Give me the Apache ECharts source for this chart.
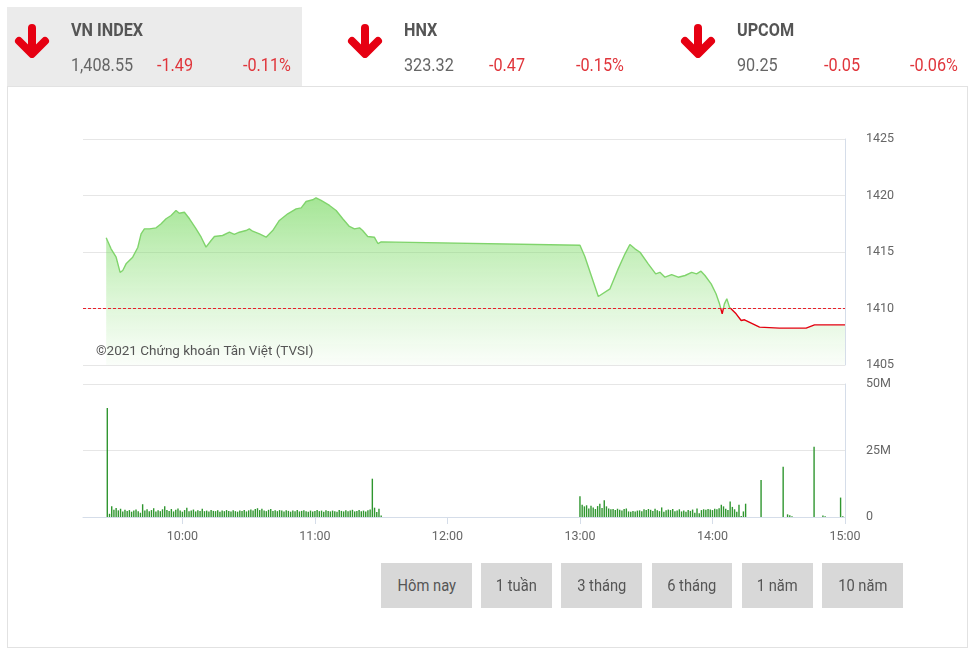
<!DOCTYPE html>
<html><head><meta charset="utf-8">
<script src="https://cdn.jsdelivr.net/npm/echarts@6/dist/echarts.min.js"></script>
<style>
html,body{margin:0;padding:0;background:#fff;width:973px;height:652px;overflow:hidden;font-family:Roboto,"Noto Sans",sans-serif;}
#hdrbox{position:absolute;left:7px;top:7px;width:295px;height:79px;background:#ebebeb;}
#panel{position:absolute;left:7px;top:86px;width:961px;height:562px;border:1px solid #e2e2e2;box-sizing:border-box;}
#chart{position:absolute;left:0;top:0;width:973px;height:652px;}
.t{position:absolute;white-space:nowrap;transform-origin:0 50%;transform:scaleX(0.9);height:24px;line-height:24px;font-size:18px;}
.nm{font-weight:bold;color:#555;}
.val{color:#666;}
.chg{color:#e0353b;}
.arrow{position:absolute;top:24px;width:36px;height:34px;}
.btn{position:absolute;top:563px;height:45px;background:#d8d8d8;color:#555;font-size:16px;line-height:45px;text-align:center;}
.btn span{display:inline-block;transform:scaleX(0.92);}
</style>
</head><body>
<div id="hdrbox"></div>
<div id="panel"></div>
<div id="chart"></div>
<div id="hdr"></div>
<script>
// ---- header data ----
const indexNames = ['VN INDEX', 'HNX', 'UPCOM'];
const indexValues = ['1,408.55', '323.32', '90.25'];
const indexChanges = ['-1.49', '-0.47', '-0.05'];
const indexPercents = ['-0.11%', '-0.15%', '-0.06%'];
const rangeButtons = ['Hôm nay', '1 tuần', '3 tháng', '6 tháng', '1 năm', '10 năm'];

// ---- price line (time, index points) ----
const priceTimes = ['9:25:30','9:27:42','9:30:00','9:31:48','9:33:00','9:34:30','9:37:30','9:39:48','9:41:18','9:42:48',
 '9:45:06','9:48:06','9:50:24','9:52:36','9:54:54','9:57:06','9:58:36','10:00:54','10:03:12','10:06:12',
 '10:08:30','10:10:42','10:13:00','10:14:30','10:18:12','10:21:18','10:23:30','10:25:48','10:28:48','10:30:18',
 '10:31:48','10:34:54','10:37:54','10:40:54','10:43:54','10:47:42','10:51:30','10:53:48','10:56:00','10:59:00',
 '11:00:30','11:02:48','11:06:36','11:09:36','11:12:36','11:15:36','11:17:54','11:20:12','11:21:36','11:23:54',
 '11:26:54','11:28:30','11:30:00','13:00:00','13:02:12','13:08:18','13:13:36','13:17:24','13:20:24','13:22:36',
 '13:24:54','13:27:12','13:30:54','13:34:18','13:36:12','13:38:30','13:41:30','13:44:30','13:47:36','13:50:36',
 '13:52:48','13:54:48','13:56:36','13:59:24','14:01:36','14:03:06','14:04:24','14:05:24','14:06:30','14:07:42',
 '14:10:42','14:13:00','14:14:30','14:21:18','14:30:18','14:42:24','14:46:12','15:00:00'];
const priceValues = [1416.26,1415.28,1414.54,1413.2,1413.36,1413.95,1414.54,1415.4,1416.6,1417.05,
 1417.05,1417.14,1417.5,1417.94,1418.23,1418.67,1418.43,1418.52,1417.94,1417.05,
 1416.31,1415.43,1416.02,1416.37,1416.46,1416.75,1416.55,1416.75,1416.9,1417.05,
 1416.84,1416.6,1416.31,1416.9,1417.79,1418.38,1418.82,1418.9,1419.47,1419.62,
 1419.8,1419.56,1419.12,1418.67,1417.94,1417.26,1417.05,1417.14,1416.9,1416.37,
 1416.31,1415.75,1415.9,1415.6,1414.6,1411.06,1411.74,1413.55,1414.84,1415.66,
 1415.28,1414.98,1413.95,1413.07,1413.2,1412.77,1413.0,1412.77,1412.92,1413.2,
 1413.07,1413.3,1412.92,1412.18,1411.3,1410.47,1409.53,1410.41,1410.86,1410.12,
 1409.53,1408.94,1409.0,1408.35,1408.26,1408.26,1408.55,1408.55];
const referencePrice = 1410.04;

// ---- volume (millions of shares), one bar per minute from the start time ----
const morningVolStart = '9:26';
const morningVolumes = [41.0,1.2,4.0,2.7,3.4,2.5,3.1,2.1,2.7,2.3,
 2.6,2.0,2.4,2.8,2.2,1.6,4.8,2.4,2.9,2.2,
 2.6,3.3,2.1,2.5,2.2,2.9,4.0,2.6,2.3,3.0,
 2.1,2.7,3.2,2.4,2.0,2.6,3.5,2.2,2.4,2.8,
 2.1,2.5,2.3,3.1,2.2,2.4,2.1,2.6,2.3,2.2,
 2.5,2.0,2.4,2.2,2.6,2.3,2.1,2.5,2.2,2.0,
 2.4,2.3,2.6,2.1,2.5,2.8,2.4,3.0,3.3,2.6,
 3.1,2.4,2.2,2.7,3.0,2.3,2.5,2.2,2.6,2.4,
 2.1,2.5,2.3,2.0,2.4,2.2,2.6,2.1,2.3,2.5,
 2.2,2.0,2.4,2.1,2.3,2.6,2.2,2.4,2.0,2.5,
 2.3,2.1,2.4,2.2,2.0,2.6,2.3,2.1,2.5,2.2,
 2.4,2.7,2.1,2.3,2.6,2.2,2.4,2.1,2.5,2.8,
 14.4,3.5,1.9,3.1,0.6];
const afternoonVolStart = '13:00';
const afternoonVolumes = [7.8,4.6,4.0,4.4,3.2,4.2,3.6,3.0,4.1,5.0,
 3.4,6.3,4.0,3.2,2.9,3.0,2.6,3.1,2.7,2.4,
 3.0,3.2,2.1,2.0,2.3,2.1,2.4,2.5,2.2,2.9,
 2.6,3.0,2.7,2.3,3.1,2.5,2.2,3.6,2.0,2.5,
 2.8,2.6,3.0,2.2,2.4,2.9,2.1,2.4,2.0,2.6,
 2.3,2.8,1.6,3.2,1.4,2.6,2.9,2.7,3.0,2.8,
 2.6,3.1,2.9,3.3,4.6,4.0,3.1,2.6,5.8,3.8,
 2.9,2.0,4.6,0.4,2.1,5.0];
const lateVolTimes = ['14:22','14:32','14:34','14:35','14:36','14:46','14:50','14:51','14:58','14:59'];
const lateVolumes = [13.9,18.9,1.0,0.7,0.3,26.4,0.6,0.3,7.3,0.3];

// ---- axis ticks ----
const hourTicks = ['10:00','11:00','12:00','13:00','14:00','15:00'];
const axisStart = '9:15', axisEnd = '15:00';
const priceAxis = {min:1405, max:1425, step:5};
const volumeAxis = {min:0, max:50, step:25};

// ---- helpers ----
const toMin = s => { const p = s.split(':').map(Number); return p[0]*60 + p[1] + (p[2]||0)/60; };
const fmtTime = v => { const h = Math.floor(v/60), m = Math.round(v - h*60); return h + ':' + String(m).padStart(2,'0'); };

// ---- header DOM ----
const hdr = document.getElementById('hdr');
const arrowX = [14, 347, 680], nameX = [71, 404, 737], chgX = [157, 489, 824], pctX = [243, 576, 910];
indexNames.forEach((n, i) => {
  hdr.insertAdjacentHTML('beforeend',
    `<svg class="arrow" style="left:${arrowX[i]}px" viewBox="0 0 36 34"><path d="M18 4 V28 M5 17 L18 30 L31 17" fill="none" stroke="#e60012" stroke-width="8" stroke-linecap="round" stroke-linejoin="round"/></svg>` +
    `<div class="t nm" style="left:${nameX[i]}px;top:18px">${n}</div>` +
    `<div class="t val" style="left:${nameX[i]}px;top:53px">${indexValues[i]}</div>` +
    `<div class="t chg" style="left:${chgX[i]}px;top:53px">${indexChanges[i]}</div>` +
    `<div class="t chg" style="left:${pctX[i]}px;top:53px">${indexPercents[i]}</div>`);
});
const btnLeft = [381, 481, 561, 652, 742, 822], btnW = [91, 71, 81, 80, 71, 81];
rangeButtons.forEach((b, i) => {
  hdr.insertAdjacentHTML('beforeend', `<div class="btn" style="left:${btnLeft[i]}px;width:${btnW[i]}px"><span>${b}</span></div>`);
});

// ---- chart data ----
const priceData = priceTimes.map((t, i) => [toMin(t), priceValues[i]]);
const volData = [];
morningVolumes.forEach((v, i) => volData.push([toMin(morningVolStart) + i, v]));
afternoonVolumes.forEach((v, i) => volData.push([toMin(afternoonVolStart) + i, v]));
lateVolTimes.forEach((t, i) => volData.push([toMin(t), lateVolumes[i]]));
const tickVals = hourTicks.map(toMin);

const upColor = '#80d46c', downColor = '#e3000f';
const chart = echarts.init(document.getElementById('chart'), null, {renderer: 'canvas'});
const gridLine = '#e6e6e6', axisCol = '#d5dde9';
chart.setOption({
  animation: false,
  grid: [
    {left: 83, right: 128, top: 139, height: 226},
    {left: 83, right: 128, top: 384, height: 133}
  ],
  xAxis: [
    {type: 'value', gridIndex: 0, min: toMin(axisStart), max: toMin(axisEnd), show: false},
    {type: 'value', gridIndex: 1, min: toMin(axisStart), max: toMin(axisEnd),
     axisLine: {show: true, lineStyle: {color: axisCol}},
     axisTick: {show: true, length: 7, lineStyle: {color: axisCol}, customValues: tickVals},
     axisLabel: {customValues: tickVals, formatter: fmtTime, color: '#666', fontSize: 12.5, fontFamily: 'Roboto', margin: 13},
     splitLine: {show: false}}
  ],
  yAxis: [
    {type: 'value', gridIndex: 0, position: 'right', min: priceAxis.min, max: priceAxis.max, interval: priceAxis.step,
     axisLine: {show: true, lineStyle: {color: axisCol}}, axisTick: {show: false},
     axisLabel: {color: '#666', fontSize: 12.5, fontFamily: 'Roboto', margin: 21, formatter: v => String(v)},
     splitLine: {show: true, lineStyle: {color: gridLine}}},
    {type: 'value', gridIndex: 1, position: 'right', min: volumeAxis.min, max: volumeAxis.max, interval: volumeAxis.step,
     axisLine: {show: true, lineStyle: {color: axisCol}}, axisTick: {show: false},
     axisLabel: {color: '#666', fontSize: 12.5, fontFamily: 'Roboto', margin: 21, formatter: v => v === 0 ? '0' : v + 'M'},
     splitLine: {show: true, lineStyle: {color: gridLine}}}
  ],
  visualMap: {show: false, seriesIndex: 0, dimension: 1,
    pieces: [{gte: priceAxis.min - 5, lt: referencePrice, color: downColor},
             {gte: referencePrice, lte: priceAxis.max + 5, color: upColor}],
    outOfRange: {color: upColor}},
  graphic: [{type: 'text', left: 96, top: 345, z: 100,
    style: {text: '©2021 Chứng khoán Tân Việt (TVSI)', font: '13.5px Roboto', fill: '#555'}}],
  series: [
    {type: 'line', xAxisIndex: 0, yAxisIndex: 0, data: priceData, symbol: 'none', showSymbol: false,
     lineStyle: {width: 1.4},
     areaStyle: {origin: 'start', color: {type: 'linear', x: 0, y: 0, x2: 0, y2: 1,
       colorStops: [{offset: 0, color: 'rgba(112,214,88,0.9)'}, {offset: 0.55, color: 'rgba(130,222,108,0.45)'}, {offset: 1, color: 'rgba(140,225,120,0.06)'}]}},
     markLine: {silent: true, symbol: 'none', label: {show: false},
       lineStyle: {color: '#e8202a', type: [3, 2], width: 1}, data: [{yAxis: referencePrice}]}},
    {type: 'bar', xAxisIndex: 1, yAxisIndex: 1, data: volData, barWidth: 1.4, itemStyle: {color: '#2f962f'}}
  ]
});
</script>
</body></html>
